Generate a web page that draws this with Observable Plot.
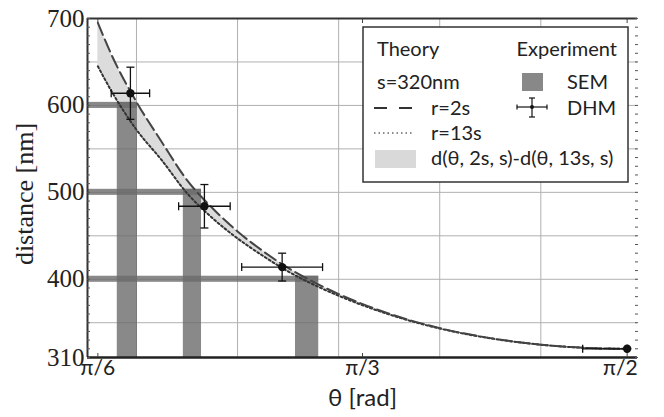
<!DOCTYPE html>
<html><head><meta charset="utf-8">
<script src="https://cdn.jsdelivr.net/npm/d3@7"></script>
<script src="https://cdn.jsdelivr.net/npm/@observablehq/plot@0.6"></script>
<style>
html,body{margin:0;padding:0;background:#fff;}
#wrap{position:relative;width:664px;height:417px;}
#legend{position:absolute;left:0;top:0;pointer-events:none;}
</style></head><body><div id="wrap"></div>
<script>
// ---- data ----
const thetaGrid = [0.5236, 0.55, 0.6, 0.65, 0.7, 0.75, 0.8, 0.85, 0.9, 0.95, 1.0, 1.1, 1.2, 1.3, 1.4, 1.5, 1.5708];
const dist2s  = [695, 659, 604, 558, 514, 482, 455, 432.5, 413, 397, 383, 360.4, 343.8, 332.3, 324.8, 320.8, 320];
const dist13s = [645, 617, 572, 537, 499, 470.5, 447, 427, 409, 394, 381, 359.5, 343.3, 332.1, 324.7, 320.8, 320];

const semTheta    = [0.582, 0.7107, 0.9376];
const semThetaErr = [0.020, 0.018, 0.023];
const semDist     = [600, 500, 400];
const semDistErr  = [3.5, 3.5, 3.5];

const dhmTheta      = [0.588, 0.7344, 0.8882, 1.5708];
const dhmThetaErrLo = [0.038, 0.051, 0.080, 0.088];
const dhmThetaErrHi = [0.038, 0.051, 0.080, 0];
const dhmDist       = [614, 484, 414, 320];
const dhmDistErr    = [30, 25, 16, 0];

const xTickValues = [Math.PI/6, Math.PI/3, Math.PI/2];
const xTickLabels = ["π/6", "π/3", "π/2"];
const yTickValues = [310, 400, 500, 600, 700];
const xGrid = [0.6, 0.8, 1.0, 1.2, 1.4];
const yGrid = [350, 400, 450, 500, 550, 600, 650];

// ---- derived tables ----
const xDomain = [Math.PI/6 - 0.0205, Math.PI/2 + 0.0205];
const yDomain = [310, 700];
const curves = thetaGrid.map((t, i) => ({t, a: dist2s[i], b: dist13s[i]}));
const sem = semTheta.map((t, i) => ({t0: t - semThetaErr[i], t1: t + semThetaErr[i], d0: semDist[i] - semDistErr[i], d1: semDist[i] + semDistErr[i]}));
const dhm = dhmTheta.map((t, i) => ({t, d: dhmDist[i], tl: t - dhmThetaErrLo[i], th: t + dhmThetaErrHi[i], dl: dhmDist[i] - dhmDistErr[i], dh: dhmDist[i] + dhmDistErr[i]}));
const hCap = {draw(ctx, size){const r = Math.sqrt(size/Math.PI); ctx.moveTo(-r,0); ctx.lineTo(r,0);}};
const vCap = {draw(ctx, size){const r = Math.sqrt(size/Math.PI); ctx.moveTo(0,-r); ctx.lineTo(0,r);}};
const sans = "Lato, 'Open Sans', sans-serif";
const serif = "'Liberation Serif', 'DejaVu Serif', serif";
const fmtX = d => xTickLabels[xTickValues.indexOf(d)];

const chart = Plot.plot({
  width: 664, height: 417,
  marginLeft: 87, marginRight: 27, marginTop: 18, marginBottom: 60,
  x: {domain: xDomain},
  y: {domain: yDomain},
  style: {background: "white"},
  marks: [
    Plot.ruleX(xGrid, {stroke: "#b0b0b0", strokeWidth: 1}),
    Plot.ruleY(yGrid, {stroke: "#b0b0b0", strokeWidth: 1}),
    Plot.areaY(curves, {x: "t", y1: "b", y2: "a", fill: "#dcdcdc", curve: "monotone-x"}),
    Plot.rect(sem, {x1: "t0", x2: "t1", y1: () => yDomain[0], y2: "d1", fill: "#6c6c6c", fillOpacity: 0.8}),
    Plot.rect(sem, {x1: () => xDomain[0], x2: "t1", y1: "d0", y2: "d1", fill: "#6c6c6c", fillOpacity: 0.8}),
    Plot.line(curves, {x: "t", y: "b", stroke: "#333", strokeWidth: 2, strokeDasharray: "2,2.5", curve: "monotone-x"}),
    Plot.line(curves, {x: "t", y: "a", stroke: "#444", strokeWidth: 2, strokeDasharray: "13,5", curve: "monotone-x"}),
    // DHM error bars
    Plot.link(dhm, {x1: "tl", x2: "th", y1: "d", y2: "d", stroke: "#111", strokeWidth: 1.3}),
    Plot.link(dhm, {x1: "t", x2: "t", y1: "dl", y2: "dh", stroke: "#111", strokeWidth: 1.3}),
    Plot.dot(dhm, {x: "tl", y: "d", symbol: vCap, r: 4, stroke: "#111", strokeWidth: 1.3, fill: "none"}),
    Plot.dot(dhm, {x: "th", y: "d", symbol: vCap, r: 4, stroke: "#111", strokeWidth: 1.3, fill: "none"}),
    Plot.dot(dhm, {x: "t", y: "dl", symbol: hCap, r: 4, stroke: "#111", strokeWidth: 1.3, fill: "none"}),
    Plot.dot(dhm, {x: "t", y: "dh", symbol: hCap, r: 4, stroke: "#111", strokeWidth: 1.3, fill: "none"}),
    Plot.dot(dhm, {x: "t", y: "d", r: 4.2, fill: "#111", stroke: null}),
    // frame
    Plot.ruleY([yDomain[1]], {stroke: "#333", strokeWidth: 1.8}),
    Plot.ruleX([xDomain[0]], {stroke: "#333", strokeWidth: 2}),
    Plot.ruleY([yDomain[0]], {stroke: "#222", strokeWidth: 2.6}),
    // inward ticks
    Plot.axisY(d3.range(310, 701, 10), {anchor: "left", tickSize: -3, tickFormat: () => "", label: null, stroke: "#555"}),
    Plot.axisY(d3.range(310, 701, 10), {anchor: "right", tickSize: -3, tickFormat: () => "", label: null, stroke: "#555"}),
    Plot.axisX(xTickValues, {anchor: "bottom", tickSize: -4, tickFormat: () => "", label: null, stroke: "#444"}),
    Plot.axisX(xTickValues, {anchor: "top", tickSize: -4, tickFormat: () => "", label: null, stroke: "#444"}),
    // tick labels
    Plot.axisY(yTickValues, {anchor: "left", tickSize: 0, tickPadding: 3, tickFormat: d => String(d), label: null, fontSize: 25, fontFamily: serif, fill: "#222"}),
    Plot.axisX(xTickValues.slice(0, 2), {anchor: "bottom", tickSize: 0, tickPadding: 3, tickFormat: fmtX, label: null, fontSize: 21, fontFamily: sans, fill: "#222"}),
    Plot.axisX(xTickValues.slice(2), {anchor: "bottom", tickSize: 0, tickPadding: 3, tickFormat: fmtX, label: null, fontSize: 21, fontFamily: sans, fill: "#222", textAnchor: "end", dx: 10.5}),
    // axis titles
    Plot.text(["θ [rad]"], {frameAnchor: "bottom", textAnchor: "middle", lineAnchor: "middle", dy: 41, fontSize: 24, fontFamily: sans, fill: "#222"}),
    Plot.text(["distance [nm]"], {frameAnchor: "left", textAnchor: "middle", lineAnchor: "middle", dx: -63, dy: 6, rotate: -90, fontSize: 26, fontFamily: serif, fill: "#222"})
  ]
});
const wrap = document.getElementById("wrap");
wrap.appendChild(chart);

// ---- legend overlay ----
const ns = "http://www.w3.org/2000/svg";
const lg = document.createElementNS(ns, "svg");
lg.setAttribute("id", "legend");
lg.setAttribute("width", 664); lg.setAttribute("height", 417);
function el(tag, attrs, txt){ const e = document.createElementNS(ns, tag); for (const k in attrs) e.setAttribute(k, attrs[k]); if (txt != null) e.textContent = txt; lg.appendChild(e); return e; }
el("rect", {x: 363, y: 27, width: 265, height: 155, fill: "white", stroke: "#333", "stroke-width": 1.5});
const tx = {"font-family": sans, "font-size": 20, fill: "#222"};
el("text", {...tx, x: 377, y: 56}, "Theory");
el("text", {...tx, x: 617, y: 56, "text-anchor": "end"}, "Experiment");
el("text", {...tx, x: 377, y: 89}, "s=320nm");
el("rect", {x: 522, y: 73, width: 21, height: 18, fill: "#888"});
el("text", {...tx, x: 567, y: 89}, "SEM");
el("line", {x1: 374, x2: 412, y1: 108, y2: 108, stroke: "#333", "stroke-width": 2, "stroke-dasharray": "13,12"});
el("text", {...tx, x: 431, y: 115}, "r=2s");
el("line", {x1: 517, x2: 547, y1: 107, y2: 107, stroke: "#111", "stroke-width": 1.2});
el("line", {x1: 517, x2: 517, y1: 104.5, y2: 109.5, stroke: "#111", "stroke-width": 1.2});
el("line", {x1: 547, x2: 547, y1: 104.5, y2: 109.5, stroke: "#111", "stroke-width": 1.2});
el("line", {x1: 532, x2: 532, y1: 98, y2: 117, stroke: "#111", "stroke-width": 1.2});
el("line", {x1: 529, x2: 535, y1: 98, y2: 98, stroke: "#111", "stroke-width": 1.2});
el("line", {x1: 529, x2: 535, y1: 117, y2: 117, stroke: "#111", "stroke-width": 1.2});
el("circle", {cx: 532, cy: 107, r: 2, fill: "#111"});
el("text", {...tx, x: 567, y: 115}, "DHM");
el("line", {x1: 374, x2: 412, y1: 133, y2: 133, stroke: "#666", "stroke-width": 1.5, "stroke-dasharray": "1.5,3"});
el("text", {...tx, x: 431, y: 140}, "r=13s");
el("rect", {x: 375, y: 150, width: 41, height: 18, fill: "#d9d9d9"});
el("text", {...tx, x: 431, y: 165}, "d(θ, 2s, s)-d(θ, 13s, s)");
wrap.appendChild(lg);
</script></body></html>
